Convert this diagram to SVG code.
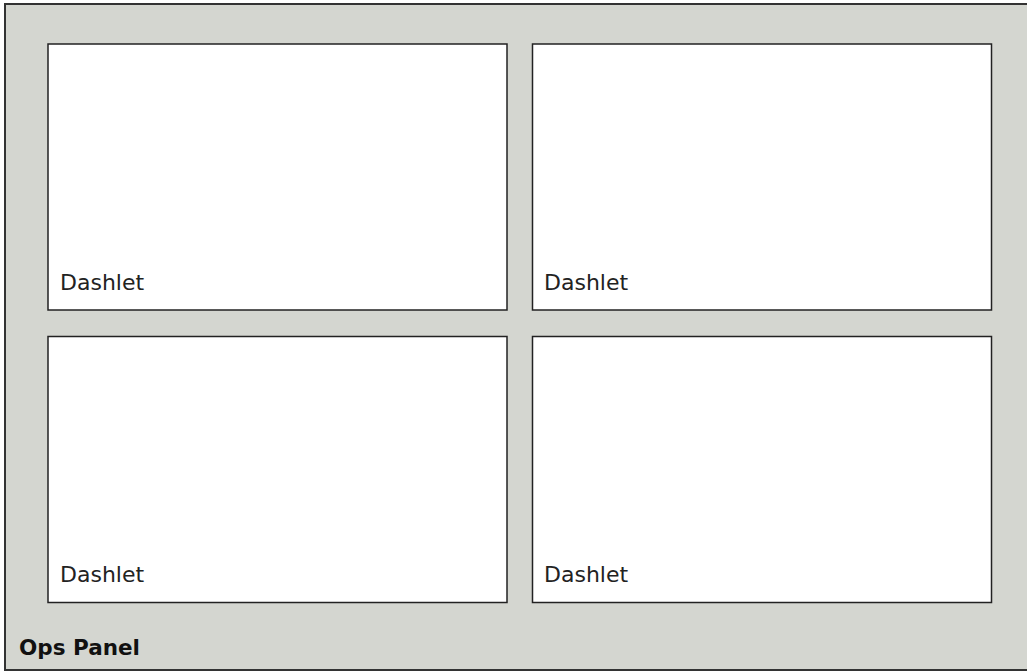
<svg xmlns="http://www.w3.org/2000/svg" width="1027" height="672" viewBox="0 0 1027 672">
<style>
.panel{fill:#d4d6d0;stroke:#333;stroke-width:2}
.dash{fill:#fff;stroke:#222;stroke-width:1.5}
.lbl{font-family:"DejaVu Sans",sans-serif;font-size:22px;fill:#222}
.title{font-family:"DejaVu Sans",sans-serif;font-size:21.5px;font-weight:bold;fill:#111}
</style>
<g id="ops-panel">
<rect class="panel" x="5" y="4" width="1030" height="666"/>
<text class="title" x="19" y="655">Ops Panel</text>
</g>
<g id="dashlet-1">
<rect class="dash" x="48" y="44" width="459" height="266"/>
<text class="lbl" x="60" y="290">Dashlet</text>
</g>
<g id="dashlet-2">
<rect class="dash" x="532.5" y="44" width="459" height="266"/>
<text class="lbl" x="544" y="290">Dashlet</text>
</g>
<g id="dashlet-3">
<rect class="dash" x="48" y="336.5" width="459" height="266"/>
<text class="lbl" x="60" y="582">Dashlet</text>
</g>
<g id="dashlet-4">
<rect class="dash" x="532.5" y="336.5" width="459" height="266"/>
<text class="lbl" x="544" y="582">Dashlet</text>
</g>
<g id="connectors"></g>
</svg>
